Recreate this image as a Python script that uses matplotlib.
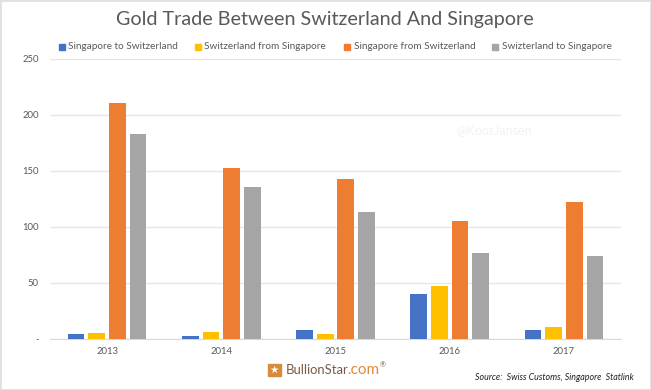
import numpy as np
import matplotlib
matplotlib.use('Agg')
import matplotlib.pyplot as plt
from matplotlib.patches import Rectangle

years = ['2013', '2014', '2015', '2016', '2017']
sg_to_ch = [4.8, 2.7, 7.7, 39.8, 8.3]
ch_from_sg = [5.4, 6, 4.5, 47, 11]
sg_from_ch = [210.3, 152.3, 142.8, 105.5, 122]
ch_to_sg = [182.3, 135.3, 113.3, 76.8, 74]
yticks = [0, 50, 100, 150, 200, 250]
ylabels = ['-', '50', '100', '150', '200', '250']

series = [('Singapore to Switzerland', sg_to_ch, '#4472C4'),
          ('Switzerland from Singapore', ch_from_sg, '#FFC000'),
          ('Singapore from Switzerland', sg_from_ch, '#ED7D31'),
          ('Swizterland to Singapore', ch_to_sg, '#A5A5A5')]

plt.rcParams['font.family'] = ['Lato', 'DejaVu Sans']
W, H = 651, 390
fig = plt.figure(figsize=(W/100, H/100), dpi=100)

# axes box in pixels
ax = fig.add_axes([50/W, 1-339/H, 571/W, 280.5/H])
x = np.arange(len(years))
step = 0.181
for i, (label, vals, col) in enumerate(series):
    ax.bar(x+(i-1.5)*step, vals, width=0.146, color=col, linewidth=0, zorder=3)

ax.set_xlim(-0.5, 4.5)
ax.set_ylim(0, 250)
ax.set_yticks(yticks)
ax.set_yticklabels(ylabels)
ax.set_xticks(x)
ax.set_xticklabels(years)
ax.grid(axis='y', color='#E6E6E6', lw=1, zorder=0)
ax.tick_params(length=0, labelsize=6.8, labelcolor='#595959')
ax.tick_params(axis='x', pad=5.5)
ax.tick_params(axis='y', pad=8)
for s in ['top', 'right', 'left']:
    ax.spines[s].set_visible(False)
ax.spines['bottom'].set_color('#D9D9D9')

def px(xp, yp):
    return xp/W, 1-yp/H

# title
fig.text(*px(325, 20), 'Gold Trade Between Switzerland And Singapore', fontsize=14.2, color='#595959',
         ha='center', va='center')

# legend placed by hand so spacing follows the reference
leg_x = [59, 195, 344, 492]
for (label, vals, col), lx in zip(series, leg_x):
    fig.add_artist(Rectangle(px(lx, 49.5), 6/W, 6/H, transform=fig.transFigure, color=col))
    fig.text(*px(lx+9.5, 46.5), label, fontsize=7.2, color='#595959', va='center')

fig.text(*px(494, 130), '@KoosJansen', fontsize=9, color='#F2F2F2', ha='center', va='center')

# logo
fig.add_artist(Rectangle(px(267.5, 376), 13.5/W, 12.5/H, transform=fig.transFigure, color='#D98A3D'))
fig.text(*px(274, 370), '\u2605', fontsize=7.5, color='white', ha='center', va='center', family='DejaVu Sans')
fig.text(*px(285.5, 370), 'BullionStar', fontsize=9.4, color='#7A5A45', va='center')
fig.text(*px(347.5, 370), '.com', fontsize=11, color='#E08A3C', va='center')
fig.text(*px(383, 365), '\u00ae', fontsize=5, color='#7A5A45', va='center', ha='center')

# source
fig.text(*px(634, 378), 'Source:  Swiss Customs, Singapore  Statlink', fontsize=6.4, style='italic',
         color='#222222', ha='right', va='center')

# frame around the picture
fig.add_artist(Rectangle((0, 0), 1, 1, transform=fig.transFigure, fill=False, edgecolor='#E0E0E0', lw=2))

fig.savefig('out.png', dpi=100)
